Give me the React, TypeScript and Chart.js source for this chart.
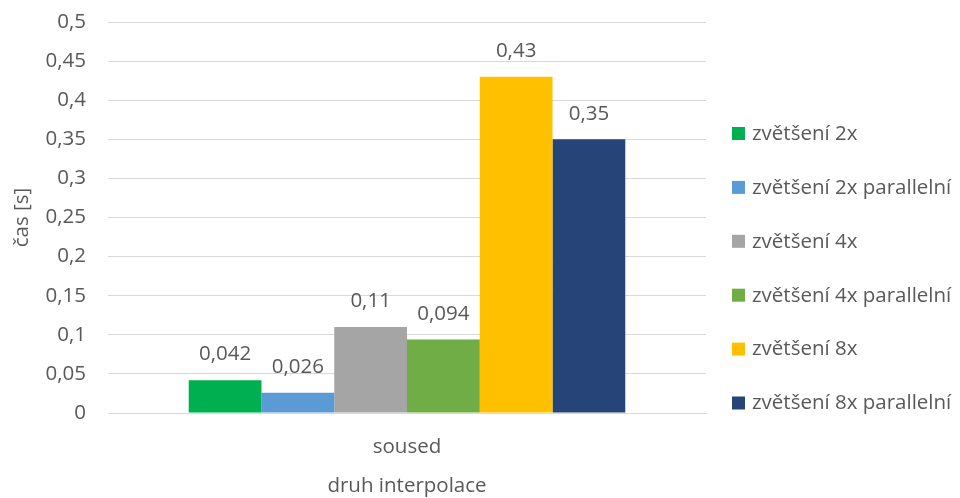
import React, { useEffect, useRef } from "react";
import { Chart, registerables } from "chart.js";

Chart.register(...registerables);

const categories = ["soused"];
const seriesNames = [
  "zvětšení 2x",
  "zvětšení 2x parallelní",
  "zvětšení 4x",
  "zvětšení 4x parallelní",
  "zvětšení 8x",
  "zvětšení 8x parallelní",
];
const seriesValues = [0.042, 0.026, 0.11, 0.094, 0.43, 0.35];
const seriesColors = ["#00B050", "#5B9BD5", "#A5A5A5", "#70AD47", "#FFC000", "#264478"];
const yAxisTitle = "čas [s]";
const xAxisTitle = "druh interpolace";

const FONT = "'Open Sans', 'DejaVu Sans', sans-serif";
const FS = 20.5;
const TEXT = "#595959";

const fmt = (v: number) => String(Number(v.toFixed(3))).replace(".", ",");

const dataLabelPlugin = {
  id: "dataLabels",
  afterDatasetsDraw(chart: any) {
    const ctx = chart.ctx;
    ctx.save();
    ctx.font = `${FS}px ${FONT}`;
    ctx.fillStyle = TEXT;
    ctx.textAlign = "center";
    ctx.textBaseline = "middle";
    chart.data.datasets.forEach((ds: any, i: number) => {
      const meta = chart.getDatasetMeta(i);
      meta.data.forEach((el: any, j: number) => {
        ctx.fillText(fmt(ds.data[j]), el.x, el.y - 25.5);
      });
    });
    ctx.restore();
  },
};

const legendPlugin = {
  id: "customLegend",
  afterDraw(chart: any) {
    const ctx = chart.ctx;
    ctx.save();
    ctx.font = `${FS}px ${FONT}`;
    ctx.textAlign = "left";
    ctx.textBaseline = "middle";
    const x0 = chart.chartArea.right + 26;
    const y0 = 133;
    const step = 53.9;
    chart.data.datasets.forEach((ds: any, i: number) => {
      const y = y0 + i * step;
      ctx.fillStyle = ds.backgroundColor;
      ctx.fillRect(x0, y - 6, 13, 13);
      ctx.fillStyle = TEXT;
      ctx.fillText(ds.label, x0 + 20, y + 1);
    });
    ctx.restore();
  },
};

export default function App() {
  const ref = useRef<HTMLCanvasElement | null>(null);
  useEffect(() => {
    if (!ref.current) return;
    const chart = new Chart(ref.current, {
      type: "bar",
      data: {
        labels: categories,
        datasets: seriesNames.map((name, i) => ({
          label: name,
          data: [seriesValues[i]],
          backgroundColor: seriesColors[i],
          borderWidth: 0,
          barPercentage: 1,
          categoryPercentage: 0.73,
        })),
      },
      options: {
        animation: false,
        responsive: false,
        maintainAspectRatio: false,
        layout: { padding: { top: 22, right: 254, bottom: 0, left: 0 } },
        plugins: {
          legend: { display: false },
          tooltip: { enabled: false },
        },
        scales: {
          x: {
            grid: { display: false, drawTicks: false },
            border: { display: true, color: "#D9D9D9", width: 1 },
            ticks: { color: TEXT, font: { family: FONT, size: FS }, padding: 22 },
            title: {
              display: true,
              text: xAxisTitle,
              color: TEXT,
              font: { family: FONT, size: FS },
              padding: { top: 0, bottom: 0 },
            },
            afterFit: (s: any) => {
              s.height = 85;
              s.paddingLeft = 0;
              s.paddingRight = 0;
            },
          },
          y: {
            min: 0,
            max: 0.5,
            grid: { color: "#D9D9D9", lineWidth: 1, drawTicks: false },
            border: { display: false },
            ticks: {
              stepSize: 0.05,
              color: TEXT,
              font: { family: FONT, size: FS },
              padding: 22,
              callback: (v: any) => String(Number(Number(v).toFixed(2))).replace(".", ","),
            },
            title: {
              display: true,
              text: yAxisTitle,
              color: TEXT,
              font: { family: FONT, size: FS },
              padding: { top: 10, bottom: 0 },
            },
            afterFit: (s: any) => {
              s.width = 108;
              s.paddingTop = 0;
              s.paddingBottom = 0;
            },
          },
        },
      },
      plugins: [dataLabelPlugin, legendPlugin],
    });
    return () => chart.destroy();
  }, []);
  return (
    <div style={{ position: "fixed", left: 0, top: 0, width: 960, height: 498, background: "#fff" }}>
      <canvas ref={ref} width={960} height={498} style={{ width: 960, height: 498 }} />
    </div>
  );
}
